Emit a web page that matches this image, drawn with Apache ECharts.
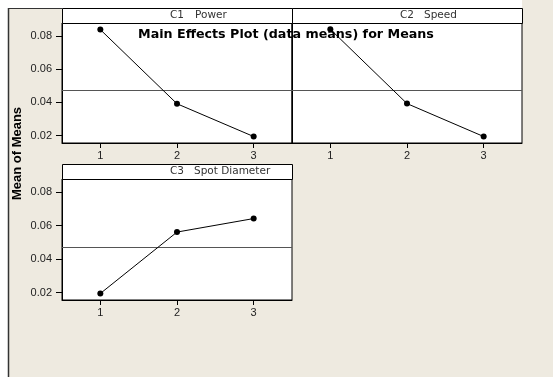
<!DOCTYPE html>
<html>
<head>
<meta charset="utf-8">
<script src="https://cdn.jsdelivr.net/npm/echarts@6/dist/echarts.min.js"></script>
<style>
html,body{margin:0;padding:0;background:#EEEAE0;}
#chart{width:553px;height:377px;}
</style>
</head>
<body>
<div id="chart"></div>
<script>
const levels = [1, 2, 3];
const powerMeans = [0.0840, 0.0392, 0.0194];
const speedMeans = [0.0842, 0.0393, 0.0194];
const spotMeans = [0.0194, 0.0562, 0.0643];
const yTicks = [0.02, 0.04, 0.06, 0.08];
const grandMean = 0.0474;
const panelCodes = ['C1', 'C2', 'C3'];
const panelNames = ['Power', 'Speed', 'Spot Diameter'];
const chartTitle = 'Main Effects Plot (data means) for Means';
const yAxisTitle = 'Mean of Means';

const FONT = '"Liberation Sans", Arial, sans-serif';
const WIDE = '"DejaVu Sans", Verdana, sans-serif';
const chart = echarts.init(document.getElementById('chart'), null, {renderer: 'canvas'});

const grids = [
  {left: 62, top: 23, width: 230, height: 120},
  {left: 292, top: 23, width: 230, height: 120},
  {left: 62, top: 179, width: 230, height: 121}
];
const seriesData = [powerMeans, speedMeans, spotMeans];

const xAxes = grids.map((g, i) => ({
  type: 'value', gridIndex: i, min: 0.5, max: 3.5,
  axisLine: {show: true, lineStyle: {color: '#000', width: 1}},
  axisTick: {show: true, length: 5, customValues: levels, lineStyle: {color: '#000'}},
  axisLabel: {show: true, customValues: levels, margin: 7, color: '#222', fontSize: 11, fontFamily: FONT},
  splitLine: {show: false}
}));
const yAxes = grids.map((g, i) => ({
  type: 'value', gridIndex: i, min: 0.0155, max: 0.088,
  axisLine: {show: true, lineStyle: {color: '#000', width: 1}},
  axisTick: {show: i !== 1, length: 6, customValues: yTicks, lineStyle: {color: '#000'}},
  axisLabel: {show: i !== 1, customValues: yTicks, margin: 10, color: '#222', fontSize: 11, fontFamily: FONT,
    formatter: v => v.toFixed(2)},
  splitLine: {show: false}
}));
const series = seriesData.map((d, i) => ({
  type: 'line', xAxisIndex: i, yAxisIndex: i,
  data: levels.map((x, k) => [x, d[k]]),
  symbol: 'circle', symbolSize: 6,
  itemStyle: {color: '#000'},
  lineStyle: {color: '#000', width: 1},
  z: 5,
  markLine: {
    silent: true, symbol: 'none', precision: 6, label: {show: false},
    lineStyle: {color: '#555', type: 'solid', width: 1},
    data: [{yAxis: grandMean}]
  }
}));

const headerRects = [
  {x: 62, y: 8, w: 230, h: 15},
  {x: 292, y: 8, w: 230, h: 15},
  {x: 62, y: 164, w: 230, h: 15}
];
const headerTextPos = [
  {code: 170, name: 195, y: 15.5},
  {code: 400, name: 424, y: 15.5},
  {code: 170, name: 194, y: 171.5}
];

const graphic = [
  {type: 'rect', shape: {x: 0, y: 0, width: 8, height: 377}, style: {fill: '#fff'}, z: 0},
  {type: 'rect', shape: {x: 0, y: 0, width: 522, height: 8}, style: {fill: '#fff'}, z: 0},
  {type: 'line', shape: {x1: 8.5, y1: 8, x2: 8.5, y2: 377}, style: {stroke: '#333', lineWidth: 1.5}, z: 1},
  {type: 'line', shape: {x1: 8, y1: 8.5, x2: 62, y2: 8.5}, style: {stroke: '#333', lineWidth: 1}, z: 1}
];
headerRects.forEach((r, i) => {
  graphic.push({type: 'rect', shape: {x: r.x + 0.5, y: r.y + 0.5, width: r.w, height: r.h},
    style: {fill: '#fff', stroke: '#000', lineWidth: 1}, z: 2});
  graphic.push({type: 'text', x: headerTextPos[i].code, y: headerTextPos[i].y,
    style: {text: panelCodes[i], fill: '#333', font: '10.5px ' + WIDE, textVerticalAlign: 'middle'}, z: 3});
  graphic.push({type: 'text', x: headerTextPos[i].name, y: headerTextPos[i].y,
    style: {text: panelNames[i], fill: '#333', font: '10.5px ' + WIDE, textVerticalAlign: 'middle'}, z: 3});
});
graphic.push({type: 'text', x: 17, y: 153.5, rotation: Math.PI / 2,
  style: {text: yAxisTitle, fill: '#000', font: 'bold 13px ' + FONT, textAlign: 'center', textVerticalAlign: 'middle'}, z: 3});

chart.setOption({
  animation: false,
  backgroundColor: '#EEEAE0',
  title: {
    text: chartTitle, left: 138, top: 28, padding: 0,
    textStyle: {fontSize: 12.7, fontWeight: 'bold', color: '#000', fontFamily: WIDE}
  },
  grid: grids.map(g => Object.assign({show: true, backgroundColor: '#fff', borderColor: '#000', borderWidth: 1, containLabel: false}, g)),
  xAxis: xAxes,
  yAxis: yAxes,
  series: series,
  graphic: graphic
});
</script>
</body>
</html>
